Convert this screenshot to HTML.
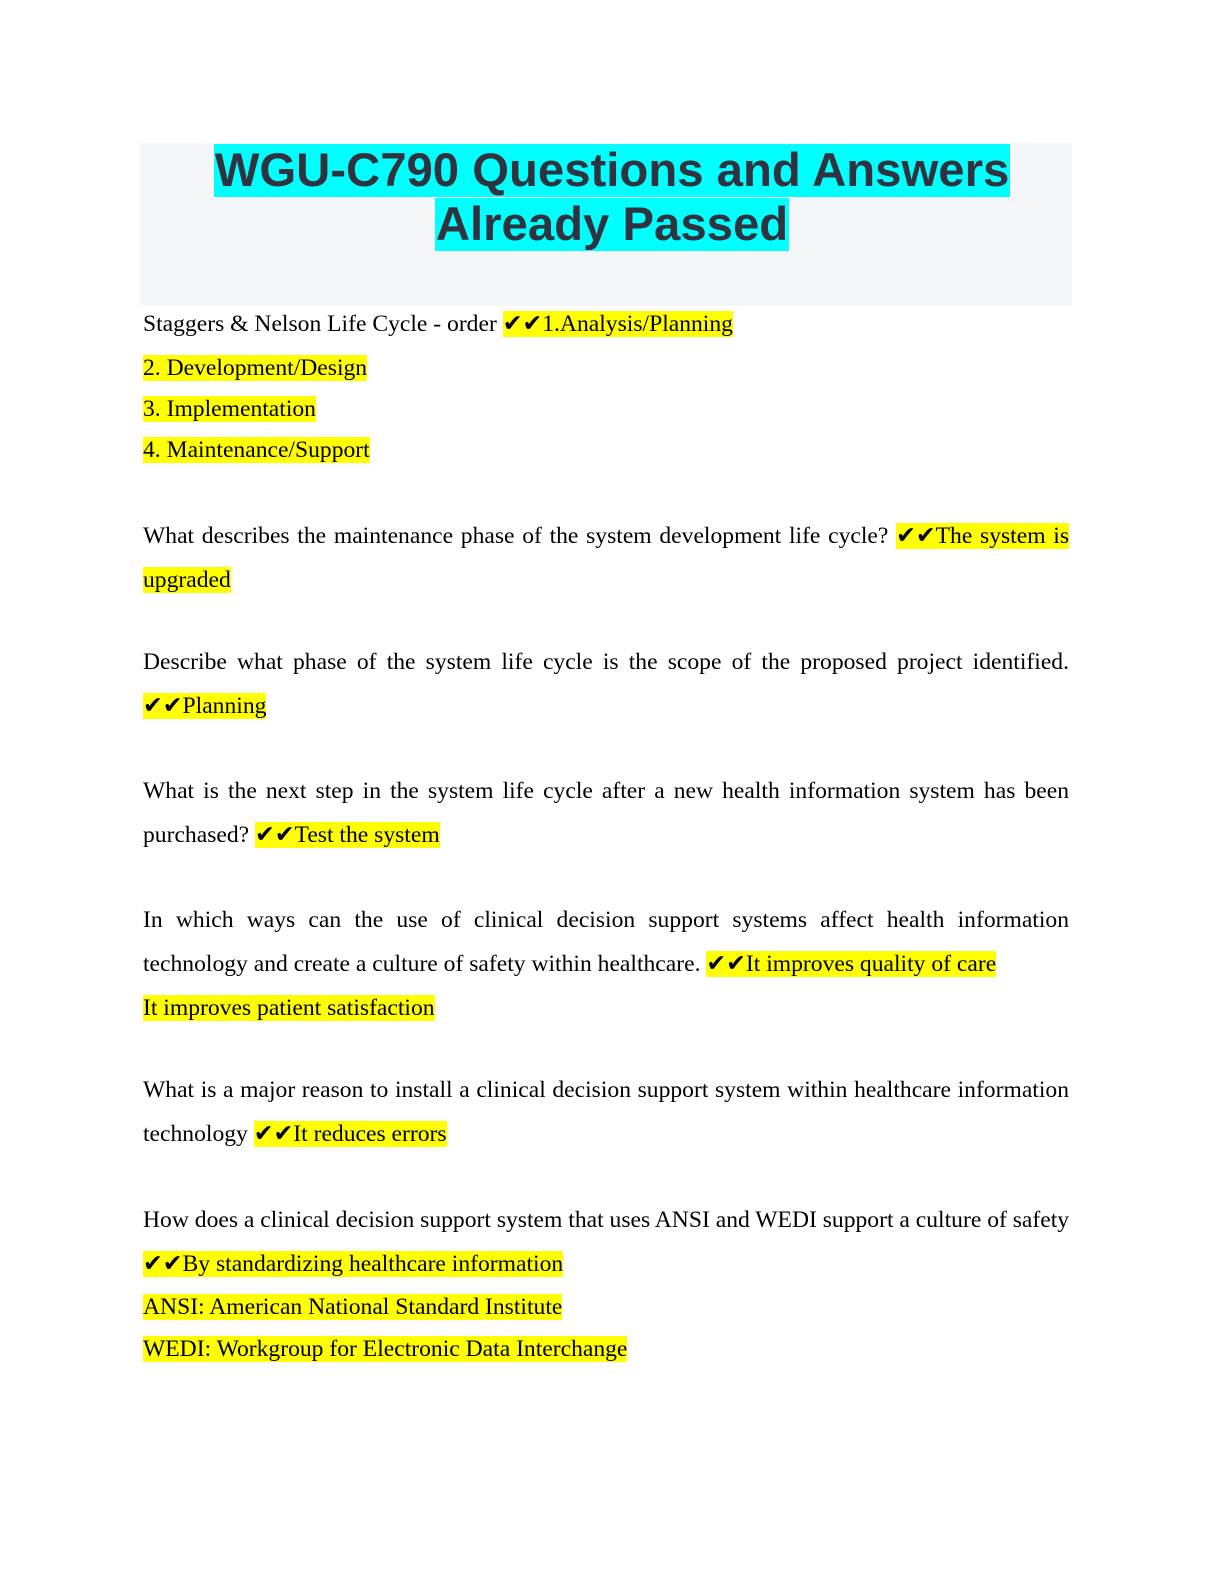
<!DOCTYPE html>
<html><head><meta charset="utf-8"><style>
html,body{margin:0;padding:0;background:#fff;}
body{width:1224px;height:1584px;position:relative;overflow:hidden;}
.box{position:absolute;left:140px;top:143px;width:932px;height:163px;background:#f5f6fa;}
.t{position:absolute;left:0;width:1224px;text-align:center;font:bold 47.3px/54px "Liberation Sans",sans-serif;color:#2f3340;}
.t span{background:#00ffff;padding:0 1px;}
.l{position:absolute;left:143px;font:23.6px/28px "Liberation Serif","DejaVu Serif",serif;color:#000;white-space:nowrap;}
.j{width:926px;text-align:justify;text-align-last:justify;}
.h{background:#ffff00;}
</style></head><body>
<div class="box"></div>
<div class="t" style="top:144px"><span>WGU-C790 Questions and Answers</span></div>
<div class="t" style="top:198px"><span>Already Passed</span></div>

<div class="l" style="top:310px">Staggers &amp; Nelson Life Cycle - order <span class="h">✔✔1.Analysis/Planning</span></div>
<div class="l" style="top:354px"><span class="h">2. Development/Design</span></div>
<div class="l" style="top:395px"><span class="h">3. Implementation</span></div>
<div class="l" style="top:436px"><span class="h">4. Maintenance/Support</span></div>

<div class="l j" style="top:522px">What describes the maintenance phase of the system development life cycle? <span class="h">✔✔The system is</span></div>
<div class="l" style="top:566px"><span class="h">upgraded</span></div>

<div class="l j" style="top:648px">Describe what phase of the system life cycle is the scope of the proposed project identified.</div>
<div class="l" style="top:692px"><span class="h">✔✔Planning</span></div>

<div class="l j" style="top:777px">What is the next step in the system life cycle after a new health information system has been</div>
<div class="l" style="top:821px">purchased? <span class="h">✔✔Test the system</span></div>

<div class="l j" style="top:906px">In which ways can the use of clinical decision support systems affect health information</div>
<div class="l" style="top:950px">technology and create a culture of safety within healthcare. <span class="h">✔✔It improves quality of care</span></div>
<div class="l" style="top:994px"><span class="h">It improves patient satisfaction</span></div>

<div class="l j" style="top:1076px">What is a major reason to install a clinical decision support system within healthcare information</div>
<div class="l" style="top:1120px">technology <span class="h">✔✔It reduces errors</span></div>

<div class="l j" style="top:1206px">How does a clinical decision support system that uses ANSI and WEDI support a culture of safety</div>
<div class="l" style="top:1250px"><span class="h">✔✔By standardizing healthcare information</span></div>
<div class="l" style="top:1293px"><span class="h">ANSI: American National Standard Institute</span></div>
<div class="l" style="top:1335px"><span class="h">WEDI: Workgroup for Electronic Data Interchange</span></div>
</body></html>
